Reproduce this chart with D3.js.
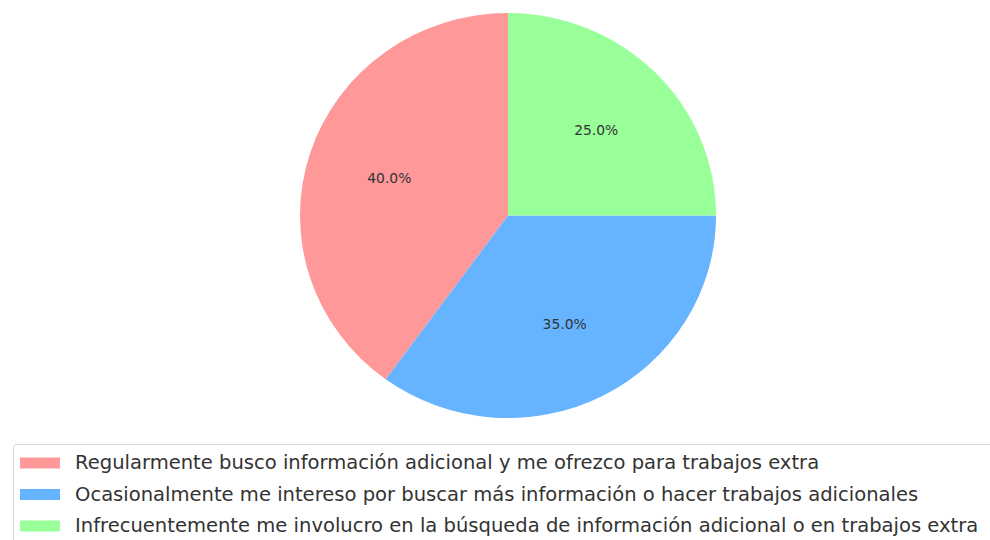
<!DOCTYPE html>
<html>
<head>
<meta charset="utf-8">
<script src="https://cdn.jsdelivr.net/npm/d3@7"></script>
<style>
  body { margin: 0; background: #fff; }
  svg { display: block; }
</style>
</head>
<body>
<div id="chart"></div>
<script>
"use strict";

// data
var labels = [
  "Regularmente busco información adicional y me ofrezco para trabajos extra",
  "Ocasionalmente me intereso por buscar más información o hacer trabajos adicionales",
  "Infrecuentemente me involucro en la búsqueda de información adicional o en trabajos extra"
];
var values = [40, 35, 25];
var colors = ["#ff9999", "#66b3ff", "#99ff99"];

var width = 990, height = 540;
var cx = 508, cy = 215.5, rx = 208, ry = 202.5;
var sx = 1.03;   // the picture is a little wider than tall

var svg = d3.select("#chart")
  .append("svg")
    .attr("width", width)
    .attr("height", height);

// pie, counterclockwise from 12 o'clock like matplotlib startangle=90
var pie = d3.pie().sort(null).startAngle(0).endAngle(-2 * Math.PI);
var arcs = pie(values);
var total = d3.sum(values);

var arc = d3.arc().innerRadius(0).outerRadius(ry);

var g = svg.append("g")
  .attr("transform", "translate(" + cx + "," + cy + ") scale(" + (rx / ry) + ",1)");

g.selectAll("path")
  .data(arcs)
  .enter().append("path")
    .attr("d", arc)
    .attr("fill", function(d, i) { return colors[i]; });

// percentage labels at 0.6 r
svg.selectAll("text.pct")
  .data(arcs)
  .enter().append("text")
    .attr("class", "pct")
    .attr("transform", function(d) {
      var a = (d.startAngle + d.endAngle) / 2;
      return "translate(" + (cx + 0.6 * rx * Math.sin(a)) + "," + (cy - 0.6 * ry * Math.cos(a)) + ") scale(" + sx + ",1)";
    })
    .attr("text-anchor", "middle")
    .attr("dominant-baseline", "central")
    .attr("font-family", "DejaVu Sans")
    .attr("font-size", 13.5)
    .attr("fill", "#333")
    .text(function(d) { return (d.value / total * 100).toFixed(1) + "%"; });

// legend
var lg = svg.append("g");
lg.append("rect")
  .attr("x", 13.5).attr("y", 444.5)
  .attr("width", 1000).attr("height", 120)
  .attr("rx", 3)
  .attr("fill", "#fff")
  .attr("stroke", "#d8d8d8");

var rows = lg.selectAll("g.row")
  .data(labels)
  .enter().append("g")
    .attr("class", "row")
    .attr("transform", function(d, i) { return "translate(0," + (463 + i * 31.5) + ")"; });

rows.append("rect")
  .attr("x", 20).attr("y", -5.5)
  .attr("width", 40).attr("height", 11)
  .attr("fill", function(d, i) { return colors[i]; });

rows.append("text")
  .attr("transform", "translate(75,0) scale(" + sx + ",1)")
  .attr("dominant-baseline", "central")
  .attr("font-family", "DejaVu Sans")
  .attr("font-size", 19)
  .attr("fill", "#333")
  .text(function(d) { return d; });
</script>
</body>
</html>
